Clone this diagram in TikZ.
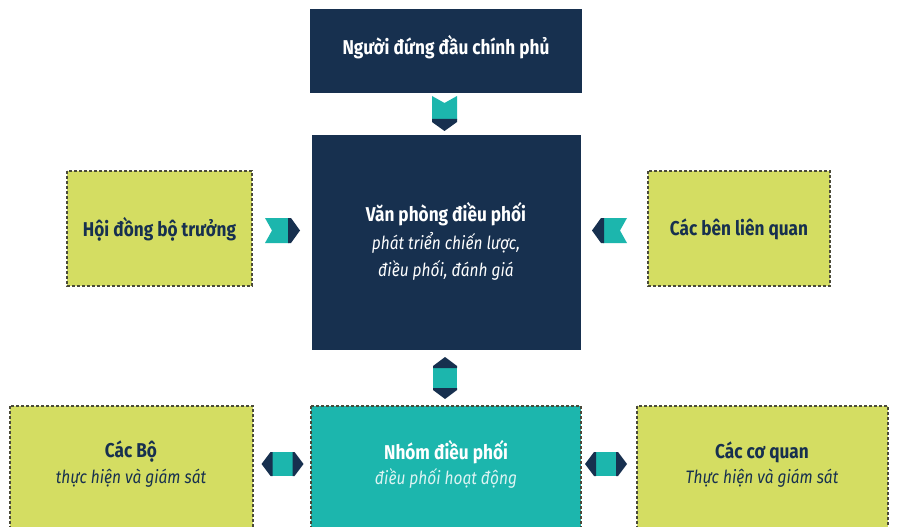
\documentclass[tikz,border=0pt]{standalone}
\usepackage{fontspec}
\setmainfont{Fira Sans}[FakeStretch=0.86]
\definecolor{navy}{HTML}{17304F}
\definecolor{teal2}{HTML}{1CB6AD}
\definecolor{lime2}{HTML}{D4DD62}
\definecolor{bord}{HTML}{4A4A3A}
\newcommand\onearrow[2]{%
  \begin{scope}[shift={#1},rotate=#2]
    \fill[teal2] (-17,-12.5) -- (7,-12.5) -- (7,12.5) -- (-17,12.5) -- (-10,0) -- cycle;
    \fill[navy] (6,-12.5) -- (9,-12.5) -- (18,0) -- (9,12.5) -- (6,12.5) -- cycle;
  \end{scope}}
\newcommand\twoarrow[2]{%
  \begin{scope}[shift={#1},rotate=#2]
    \fill[teal2] (-11,-12) rectangle (11,12);
    \fill[navy] (10,-12) -- (12,-12) -- (21,0) -- (12,12) -- (10,12) -- cycle;
    \fill[navy] (-10,-12) -- (-12,-12) -- (-21,0) -- (-12,12) -- (-10,12) -- cycle;
  \end{scope}}
\begin{document}
\begin{tikzpicture}[x=1pt,y=-1pt,
  limebox/.style={fill=lime2,draw=bord,line width=1.4pt,dash pattern=on 3pt off 2pt,inner sep=0pt},
  tealbox/.style={fill=teal2,draw=bord,line width=1.4pt,dash pattern=on 3pt off 2pt,inner sep=0pt},
  title/.style={font=\fontsize{20}{24}\selectfont\bfseries},
  sub/.style={font=\fontsize{18}{22}\selectfont\itshape}]
\useasboundingbox (0,0) rectangle (898,527);
\clip (0,0) rectangle (898,527);
\fill[white] (0,0) rectangle (898,527);
% boxes
\fill[navy] (310,9) rectangle (582,93);
\node[title,text=white] (head) at (446,47) {Người đứng đầu chính phủ};
\fill[navy] (312,135) rectangle (581,350);
\node[title,text=white] (officeT) at (446,214) {Văn phòng điều phối};
\node[sub,text=white] (officeS1) at (446,243) {phát triển chiến lược,};
\node[sub,text=white] (officeS2) at (446,270) {điều phối, đánh giá};
\draw[limebox] (67,171) rectangle (252,286);
\node[title,text=navy] (council) at (159.5,229) {Hội đồng bộ trưởng};
\draw[limebox] (648,171) rectangle (830,286);
\node[title,text=navy] (stake) at (739,229) {Các bên liên quan};
\draw[tealbox] (311,406) rectangle (581,540);
\node[title,text=white] (group) at (446,452) {Nhóm điều phối};
\node[sub,text=white!85!teal2] (groupS) at (446,478) {điều phối hoạt động};
\draw[limebox] (10,406) rectangle (253,540);
\node[title,text=navy] (min) at (131,452) {Các Bộ};
\node[sub,text=navy] (minS) at (131,478) {thực hiện và giám sát};
\draw[limebox] (637,406) rectangle (888,540);
\node[title,text=navy] (agency) at (762,452) {Các cơ quan};
\node[sub,text=navy] (agencyS) at (762,478) {Thực hiện và giám sát};
% arrows
\onearrow{(444.5,113)}{-90}
\onearrow{(282,230.5)}{0}
\onearrow{(610,230.5)}{180}
\twoarrow{(445,378)}{90}
\twoarrow{(282.5,464)}{0}
\twoarrow{(606,464)}{0}
\end{tikzpicture}
\end{document}
